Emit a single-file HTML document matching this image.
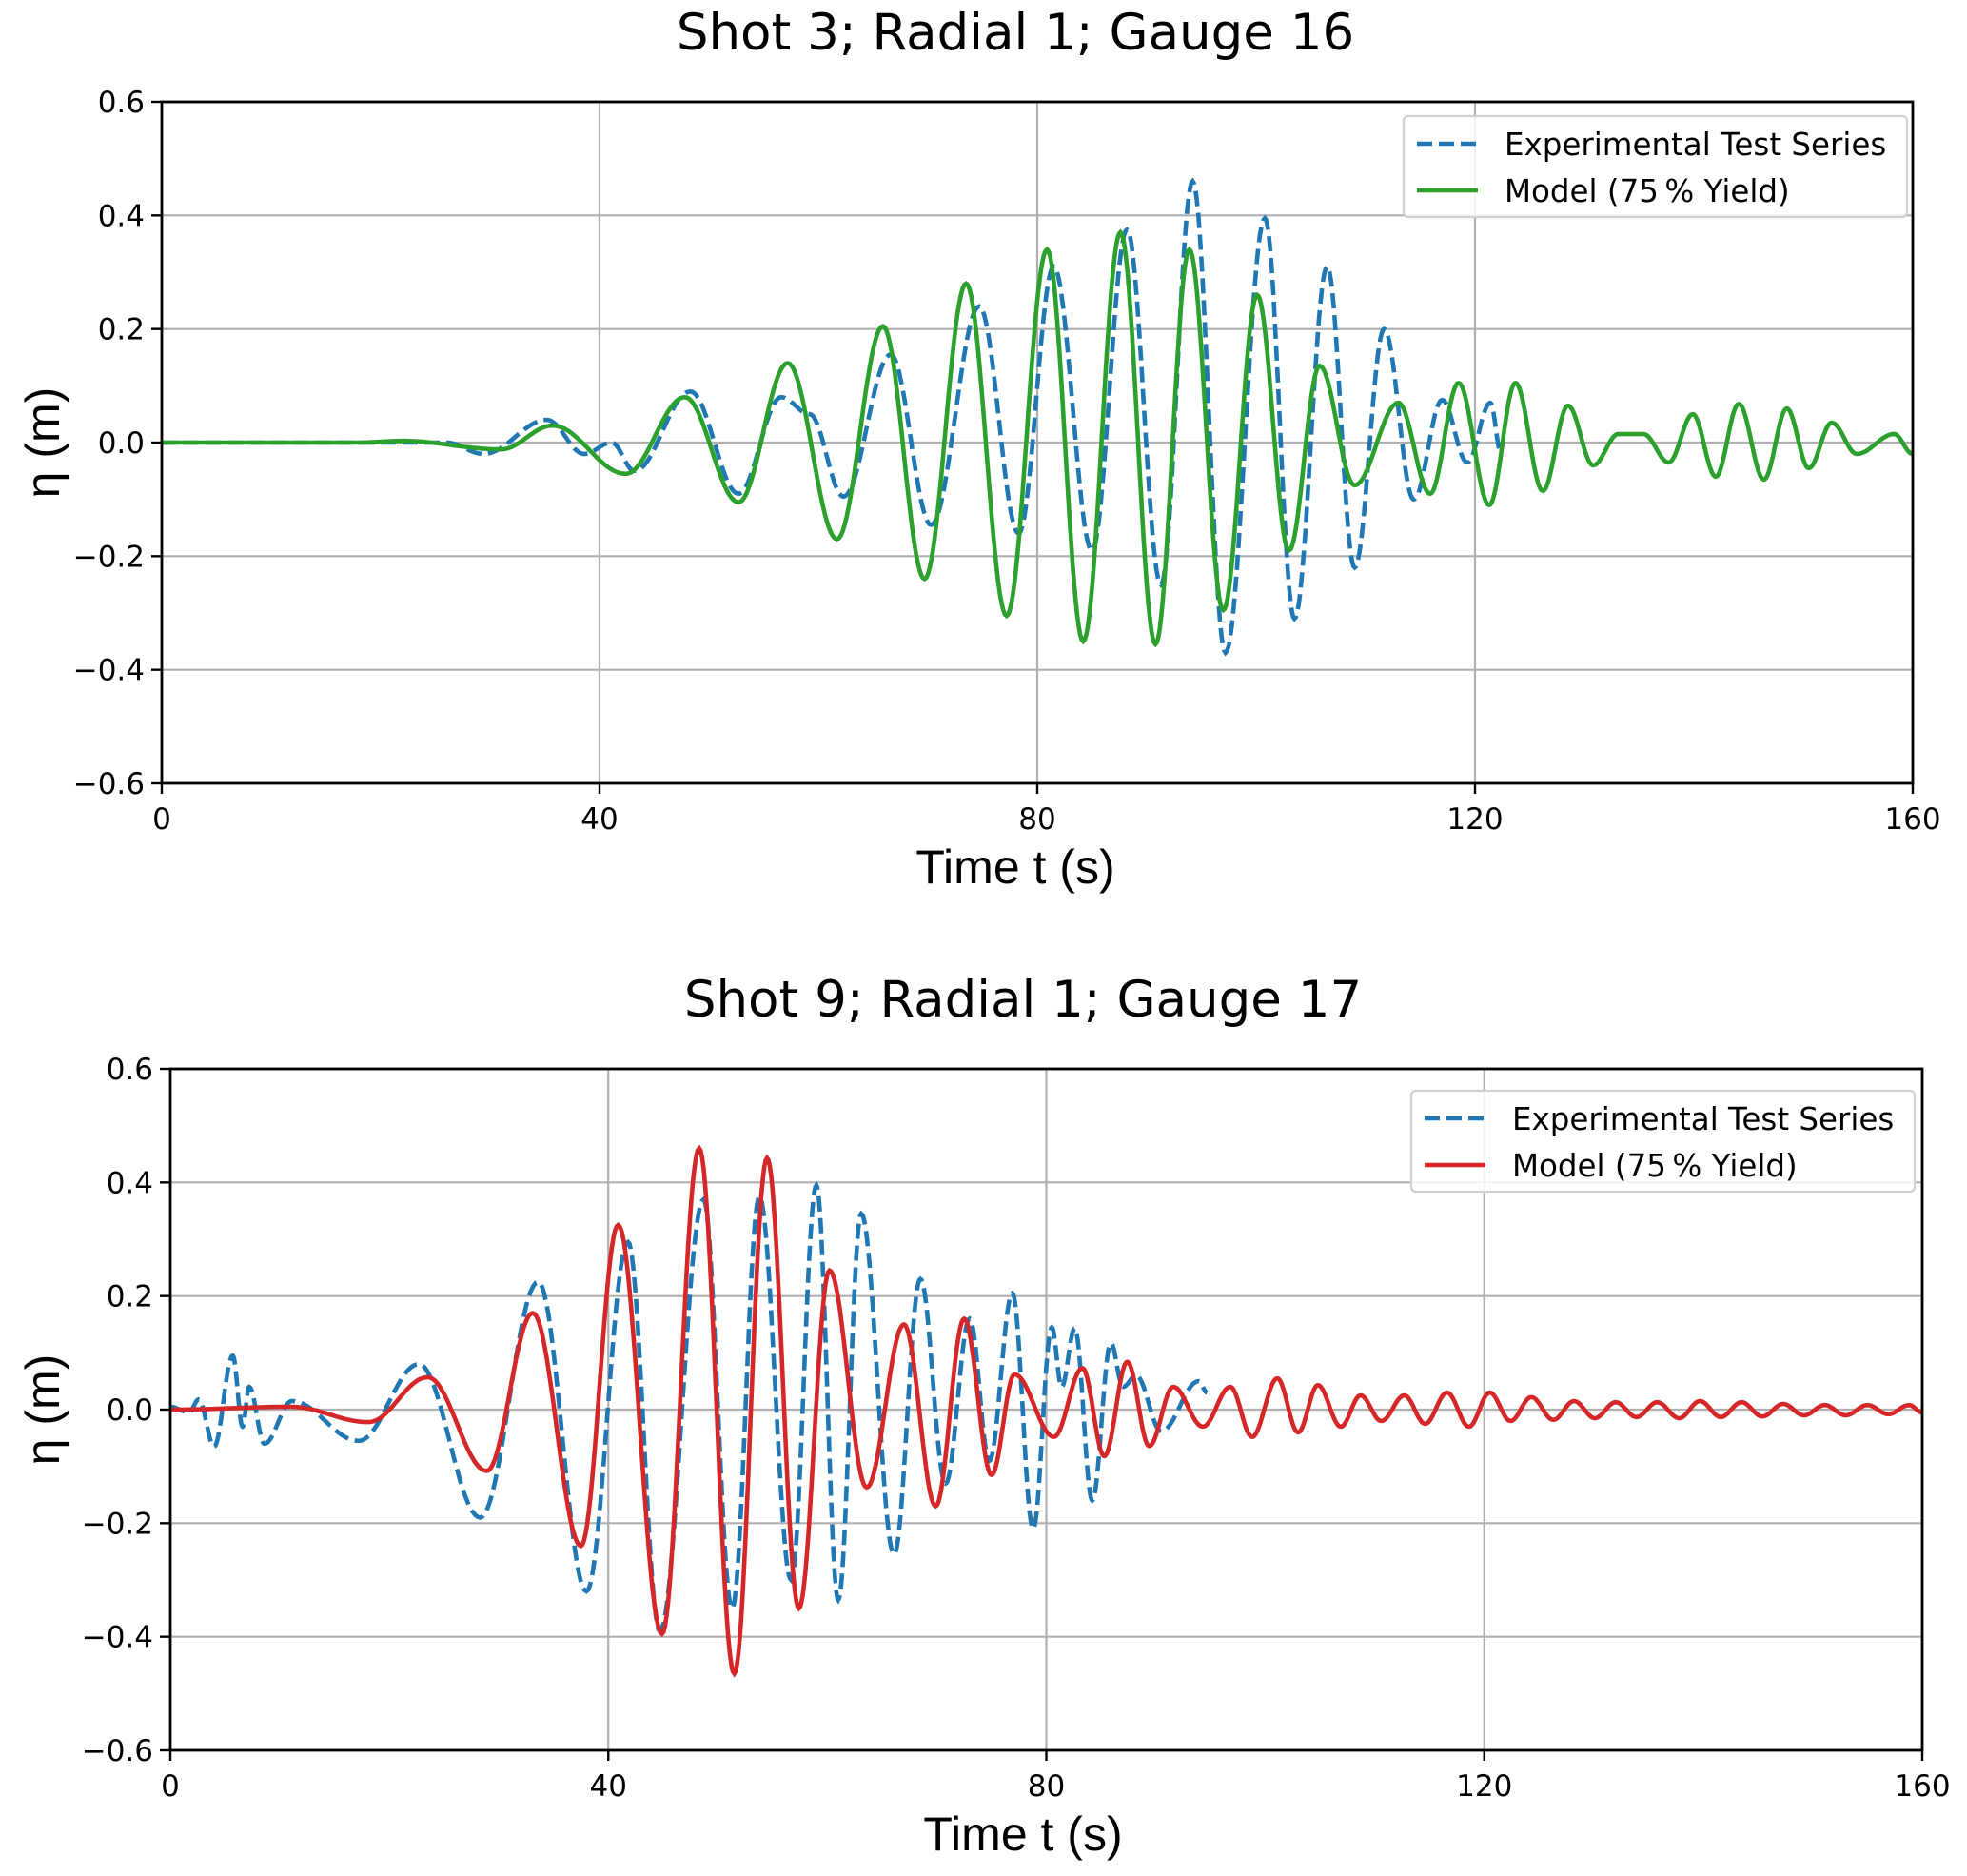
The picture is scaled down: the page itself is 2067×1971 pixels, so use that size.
<!DOCTYPE html>
<html><head><meta charset="utf-8"><style>
body{margin:0;background:#fff}
svg{display:block}
text{font-family:"DejaVu Sans","Liberation Sans",sans-serif;fill:#000}
.lab{font-family:"Liberation Sans",Arial,sans-serif}
</style></head><body>
<svg id="fig" width="2067" height="1971" viewBox="0 0 2067 1971" xmlns="http://www.w3.org/2000/svg"></svg>
<script>
// ---- Data: extrema (time s, eta m) ----
const topExpT=[0,26,29.4,35.2,38.6,41.1,43.2,48.3,52.7,56.6,59.2,62.3,66.6,70.3,74.7,78.3,81.5,85.0,88.2,91.3,94.2,97.2,100.8,103.5,106.5,109.0,111.7,114.4,117.0,119.3,121.4,122.4];
const topExpV=[0,0,-0.02,0.04,-0.02,0.0,-0.05,0.09,-0.09,0.08,0.05,-0.095,0.155,-0.145,0.24,-0.16,0.31,-0.19,0.375,-0.25,0.46,-0.37,0.395,-0.31,0.31,-0.22,0.2,-0.1,0.075,-0.035,0.07,-0.02];
const topModT=[0,18,22,31,35.7,42.4,47.8,52.7,57.2,61.7,65.9,69.7,73.5,77.2,80.9,84.2,87.6,90.8,93.9,97.0,100.1,103.0,105.8,109.0,113.0,115.9,118.5,121.3,123.7,126.2,128.5,130.8,133.1,135.4,137.7,139.9,142.0,144.1,146.4,148.5,150.5,152.6,154.9,158.3,160];
const topModV=[0,0,0.003,-0.012,0.03,-0.055,0.08,-0.105,0.14,-0.17,0.205,-0.24,0.28,-0.305,0.34,-0.35,0.37,-0.355,0.34,-0.295,0.26,-0.19,0.135,-0.075,0.07,-0.09,0.105,-0.11,0.105,-0.085,0.065,-0.04,0.015,0.015,-0.035,0.05,-0.06,0.068,-0.065,0.06,-0.045,0.035,-0.02,0.015,-0.02];
const botExpT=[0,1.7,2.6,4.0,5.7,6.6,7.2,8.6,11.1,17.2,22.7,28.3,33.6,38.0,41.8,44.7,48.7,51.3,53.8,56.7,59.0,61.0,63.1,66.1,68.5,70.8,73.0,74.8,76.9,78.8,80.5,81.4,82.6,84.2,85.9,87.0,88.2,90.5,93.9,94.7];
const botExpV=[0.005,-0.005,0.018,-0.065,0.095,-0.03,0.04,-0.06,0.015,-0.055,0.08,-0.19,0.225,-0.32,0.295,-0.39,0.37,-0.35,0.375,-0.3,0.395,-0.335,0.345,-0.255,0.23,-0.13,0.16,-0.09,0.205,-0.21,0.145,0.04,0.143,-0.16,0.117,0.04,0.06,-0.038,0.05,0.03];
const botModT=[0,11,18.1,23.5,28.9,33.1,37.5,40.9,44.9,48.3,51.5,54.5,57.4,60.2,63.6,67.0,69.9,72.5,75.0,77.1,80.7,83.3,85.3,87.4,89.4,91.6,94.3,96.8,98.8,101.1,103.0,104.8,106.9,108.7,110.6,112.7,114.6,116.6,118.6,120.5,122.4,124.3,126.3,128.2,130.1,132.0,133.9,135.8,137.8,139.7,141.6,143.5,145.4,147.3,149.2,151.1,153.0,155.0,156.9,158.8,160];
const botModV=[0,0.005,-0.022,0.057,-0.108,0.17,-0.24,0.325,-0.395,0.46,-0.465,0.443,-0.35,0.245,-0.137,0.15,-0.17,0.16,-0.115,0.062,-0.048,0.073,-0.082,0.084,-0.064,0.04,-0.03,0.04,-0.048,0.055,-0.04,0.043,-0.03,0.025,-0.02,0.025,-0.025,0.03,-0.03,0.03,-0.02,0.022,-0.018,0.015,-0.015,0.013,-0.013,0.013,-0.015,0.015,-0.013,0.013,-0.012,0.01,-0.01,0.008,-0.01,0.008,-0.008,0.008,-0.005];
const xTicks=[0,40,80,120,160];
const yTicks=[0.6,0.4,0.2,0.0,-0.2,-0.4,-0.6];
const yTickLabels=["0.6","0.4","0.2","0.0","\u22120.2","\u22120.4","\u22120.6"];

const NS="http://www.w3.org/2000/svg";
const svg=document.getElementById('fig');
function mk(tag,attrs,parent){const e=document.createElementNS(NS,tag);for(const k in attrs)e.setAttribute(k,attrs[k]);(parent||svg).appendChild(e);return e;}

function panel(cfg){
  const g=mk('g',{});
  
  
  const X=t=>cfg.L+(t-0)/160*(cfg.R-cfg.L);
  const Y=v=>cfg.T+(0.6-v)/1.2*(cfg.B-cfg.T);
  xTicks.forEach(t=>{const l=mk('line',{x1:X(t),x2:X(t),y1:cfg.T,y2:cfg.B,stroke:'#b0b0b0','stroke-width':2.2},g);
    });
  yTicks.forEach(v=>{const l=mk('line',{x1:cfg.L,x2:cfg.R,y1:Y(v),y2:Y(v),stroke:'#b0b0b0','stroke-width':2.2},g);
    });
  function path(T,V){let d='';for(let i=0;i<T.length-1;i++){for(let k=0;k<=24;k++){const s=k/24;const t=T[i]+(T[i+1]-T[i])*s;const v=V[i]+(V[i+1]-V[i])*(1-Math.cos(Math.PI*s))/2;d+=(d?'L':'M')+X(t).toFixed(1)+','+Y(v).toFixed(1);}}return d;}
  const exp=mk('path',{d:path(cfg.eT,cfg.eV),fill:'none',stroke:'#1f77b4','stroke-width':4.6,'stroke-dasharray':'16,7'},g);
  
  const mod=mk('path',{d:path(cfg.mT,cfg.mV),fill:'none',stroke:cfg.col,'stroke-width':4.6},g);
  
  const fr=mk('rect',{x:cfg.L,y:cfg.T,width:cfg.R-cfg.L,height:cfg.B-cfg.T,fill:'none',stroke:'#000','stroke-width':2.8},g);
  
  xTicks.forEach(t=>{mk('line',{x1:X(t),x2:X(t),y1:cfg.B,y2:cfg.B+11,stroke:'#000','stroke-width':2.4},g);
    const tx=mk('text',{x:X(t),y:cfg.B+48,'font-size':31,'text-anchor':'middle'},g);tx.textContent=t;
    });
  yTicks.forEach((v,i)=>{mk('line',{x1:cfg.L-11,x2:cfg.L,y1:Y(v),y2:Y(v),stroke:'#000','stroke-width':2.4},g);
    const tx=mk('text',{x:cfg.L-18,y:Y(v)+11,'font-size':31,'text-anchor':'end'},g);tx.textContent=yTickLabels[i];
    });
  const ti=mk('text',{x:cfg.tx,y:cfg.T-55,'font-size':53,'text-anchor':'middle'},g);ti.textContent=cfg.title;
  
  const xl=mk('text',{x:cfg.tx,y:cfg.xlY,'font-size':50,'text-anchor':'middle',class:'lab'},g);xl.textContent='Time t (s)';
  
  const yc=(cfg.T+cfg.B)/2;
  const yl=mk('text',{x:62,y:yc,'font-size':50,'text-anchor':'middle',class:'lab',transform:`rotate(-90 62 ${yc})`},g);yl.textContent='\u03b7 (m)';
  
  const lg=mk('g',{},g);
  
  mk('rect',{x:cfg.lx,y:cfg.ly,width:529,height:106,rx:5,fill:'#fff','fill-opacity':0.85,stroke:'#d0d0d0','stroke-width':2.2},lg);
  mk('line',{x1:cfg.lx+14,x2:cfg.lx+78,y1:cfg.ly+29,y2:cfg.ly+29,stroke:'#1f77b4','stroke-width':4.6,'stroke-dasharray':'16,7'},lg);
  const t1=mk('text',{x:cfg.lx+106,y:cfg.ly+41,'font-size':32.5},lg);t1.textContent='Experimental Test Series';
  
  mk('line',{x1:cfg.lx+14,x2:cfg.lx+78,y1:cfg.ly+78,y2:cfg.ly+78,stroke:cfg.col,'stroke-width':4.6},lg);
  const t2=mk('text',{x:cfg.lx+106,y:cfg.ly+90,'font-size':32.5},lg);t2.textContent='Model (75\u2009% Yield)';
  
}
panel({name:'top-chart',L:170,R:2010,T:107,B:823,tx:1067,title:'Shot 3; Radial 1; Gauge 16',xlY:928,col:'#2ca02c',eT:topExpT,eV:topExpV,mT:topModT,mV:topModV,lx:1475,ly:122});
panel({name:'bottom-chart',L:179,R:2020,T:1123,B:1839,tx:1075,title:'Shot 9; Radial 1; Gauge 17',xlY:1944,col:'#d62728',eT:botExpT,eV:botExpV,mT:botModT,mV:botModV,lx:1483,ly:1146});
</script>
</body></html>
